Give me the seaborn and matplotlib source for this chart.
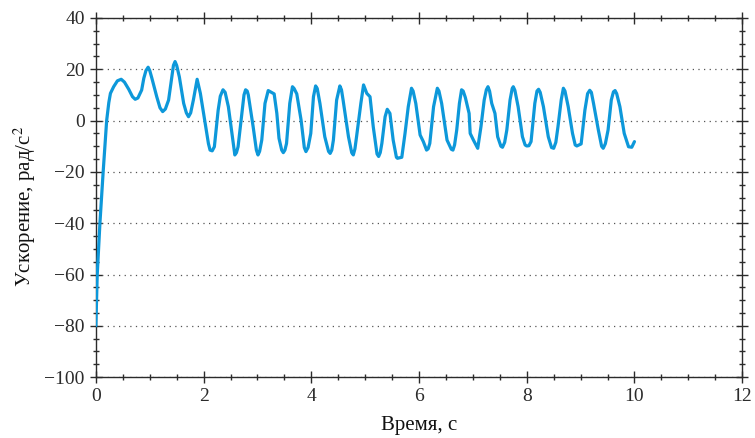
import matplotlib
matplotlib.use("Agg")
import matplotlib.pyplot as plt
import numpy as np
import pandas as pd
import seaborn as sns
from matplotlib.ticker import MultipleLocator

# time, s
time_s = [
    0.0, 0.025, 0.075, 0.135, 0.2, 0.24, 0.27, 0.33, 0.40, 0.47,
    0.53, 0.61, 0.68, 0.73, 0.78, 0.85, 0.89, 0.93, 0.97, 1.00,
    1.04, 1.13, 1.19, 1.24, 1.29, 1.35, 1.41, 1.44, 1.47, 1.50,
    1.55, 1.63, 1.68, 1.72, 1.76, 1.81, 1.88, 1.94, 2.03, 2.09,
    2.12, 2.16, 2.20, 2.27, 2.31, 2.36, 2.40, 2.46, 2.55, 2.58,
    2.61, 2.64, 2.71, 2.75, 2.78, 2.81, 2.83, 2.92, 2.98, 3.01,
    3.04, 3.08, 3.14, 3.20, 3.31, 3.36, 3.40, 3.45, 3.48, 3.51,
    3.54, 3.60, 3.65, 3.68, 3.73, 3.81, 3.87, 3.90, 3.94, 3.99,
    4.04, 4.08, 4.11, 4.16, 4.25, 4.32, 4.35, 4.38, 4.41, 4.47,
    4.53, 4.56, 4.59, 4.69, 4.75, 4.78, 4.81, 4.84, 4.92, 4.97,
    5.03, 5.09, 5.15, 5.22, 5.25, 5.28, 5.31, 5.37, 5.41, 5.46,
    5.52, 5.58, 5.60, 5.68, 5.74, 5.80, 5.86, 5.89, 5.94, 6.02,
    6.08, 6.14, 6.17, 6.20, 6.27, 6.34, 6.37, 6.42, 6.52, 6.60,
    6.63, 6.66, 6.70, 6.75, 6.79, 6.82, 6.86, 6.93, 6.95, 7.01,
    7.09, 7.15, 7.21, 7.25, 7.28, 7.31, 7.35, 7.41, 7.46, 7.52,
    7.55, 7.59, 7.63, 7.69, 7.73, 7.75, 7.78, 7.84, 7.92, 7.97,
    8.00, 8.04, 8.08, 8.15, 8.19, 8.22, 8.25, 8.31, 8.40, 8.46,
    8.50, 8.54, 8.58, 8.64, 8.68, 8.71, 8.77, 8.85, 8.90, 8.93,
    9.01, 9.08, 9.13, 9.17, 9.20, 9.24, 9.33, 9.39, 9.42, 9.46,
    9.51, 9.57, 9.61, 9.64, 9.67, 9.73, 9.81, 9.89, 9.95, 10.0,
]
# angular acceleration, rad/s^2
accel = [
    -80.0, -60.0, -40.0, -20.0, 0.0, 7.0, 10.6, 13.2, 15.5, 16.1,
    15.0, 12.2, 9.3, 8.3, 8.8, 11.9, 16.5, 19.5, 20.8, 19.5,
    16.5, 9.3, 5.0, 3.5, 4.5, 8.0, 17.0, 21.5, 23.0, 21.5,
    17.0, 6.7, 3.0, 1.5, 3.0, 8.0, 16.1, 10.6, -1.0, -9.0,
    -11.5, -11.8, -10.2, 4.0, 9.5, 12.0, 11.0, 5.4, -8.9, -13.4,
    -12.5, -10.2, 2.8, 10.0, 12.0, 11.5, 10.0, -2.4, -11.5, -13.4,
    -12.0, -7.6, 6.7, 11.7, 10.4, 2.8, -6.9, -11.5, -12.5, -11.5,
    -8.9, 6.7, 13.2, 12.5, 10.4, 0.2, -10.5, -12.1, -10.5, -5.0,
    9.3, 13.5, 12.5, 6.7, -6.3, -12.0, -12.8, -11.5, -7.6, 8.0,
    13.5, 12.0, 8.0, -6.3, -12.5, -13.4, -11.0, -6.3, 6.7, 13.9,
    10.6, 9.3, -2.4, -13.0, -14.0, -12.5, -8.9, 1.5, 4.4, 2.8,
    -7.6, -14.3, -14.7, -14.3, -5.0, 5.4, 12.6, 11.5, 6.7, -5.6,
    -8.2, -11.5, -11.0, -8.9, 5.4, 12.6, 11.5, 6.7, -7.6, -11.2,
    -11.5, -9.5, -3.7, 6.7, 12.0, 11.5, 9.0, 2.8, -5.0, -7.6,
    -10.8, -2.4, 8.0, 12.0, 13.2, 11.5, 6.7, 2.8, -6.3, -10.0,
    -10.4, -8.5, -3.7, 8.0, 12.5, 13.2, 11.8, 5.4, -6.3, -9.5,
    -9.9, -9.8, -8.2, 6.7, 11.5, 12.2, 11.0, 5.4, -6.3, -10.5,
    -10.8, -8.5, -2.4, 8.0, 12.6, 11.5, 5.4, -5.0, -9.5, -9.9,
    -9.1, 4.1, 10.5, 11.8, 11.0, 6.7, -3.7, -10.0, -10.8, -9.0,
    -3.7, 8.0, 11.2, 11.7, 10.5, 5.4, -5.0, -10.2, -10.4, -8.2,
]

x_ticks = [0, 2, 4, 6, 8, 10, 12]
y_ticks = [-100, -80, -60, -40, -20, 0, 20, 40]

LINE = "#0d98da"
INK = "#2b2b2b"

sns.set_theme(style="ticks")
plt.rcParams.update({
    "font.family": ["Liberation Serif", "DejaVu Serif"],
    "mathtext.fontset": "stix",
    "axes.edgecolor": INK,
    "axes.linewidth": 1.0,
    "xtick.color": INK,
    "ytick.color": INK,
    "text.color": "#111111",
    "axes.labelcolor": "#111111",
})

df = pd.DataFrame({"t": time_s, "a": accel})

fig = plt.figure(figsize=(7.55, 4.38), dpi=100)
ax = fig.add_axes([0.127, 0.139, 0.856, 0.820])

sns.lineplot(data=df, x="t", y="a", estimator=None, sort=False,
             color=LINE, linewidth=2.3, ax=ax, zorder=3,
             solid_joinstyle="round", solid_capstyle="round")

ax.set_xlim(0, 12)
ax.set_ylim(-100, 40)
ax.set_xticks(x_ticks)
ax.set_yticks(y_ticks)
ax.xaxis.set_minor_locator(MultipleLocator(0.5))
ax.yaxis.set_minor_locator(MultipleLocator(5))
ax.tick_params(which="both", direction="inout", top=True, right=True,
               labelsize=14, width=1.0, color=INK)
ax.tick_params(which="major", length=8, pad=4)
ax.tick_params(which="minor", length=4.5)

ax.yaxis.grid(True, which="major", linestyle=(0, (1, 3.5)), color="#555555",
              linewidth=0.9)
ax.xaxis.grid(False)

ax.set_xlabel("Время, с", fontsize=15, labelpad=8)
ax.set_ylabel("Ускорение, рад/с$^2$", fontsize=15)
ax.yaxis.set_label_coords(-0.089, 0.475)

for s in ax.spines.values():
    s.set_visible(True)

fig.savefig("out.png", dpi=100, facecolor="white")
